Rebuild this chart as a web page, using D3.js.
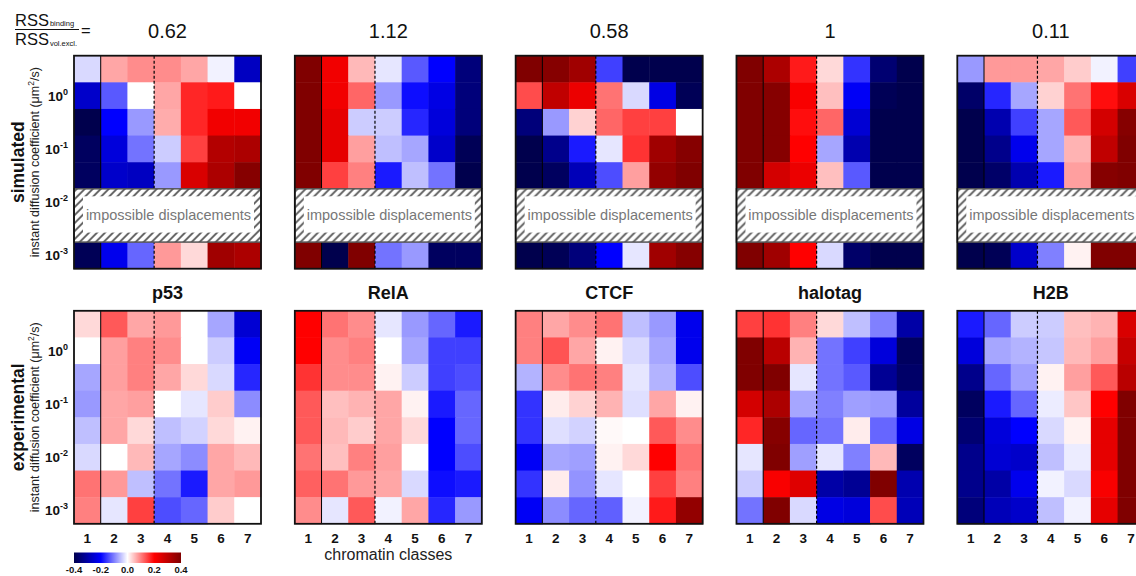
<!DOCTYPE html>
<html>
<head>
<meta charset="utf-8">
<script src="https://cdn.jsdelivr.net/npm/d3@7"></script>
<style>
  html, body { margin: 0; padding: 0; background: #fff; }
  svg { display: block; font-family: "Liberation Sans", Arial, sans-serif; }
</style>
</head>
<body>
<svg id="chart" width="1136" height="576"></svg>
<script>
// ---- data ---------------------------------------------------------------
const proteins = ["p53", "RelA", "CTCF", "halotag", "H2B"];
const rssRatios = ["0.62", "1.12", "0.58", "1", "0.11"];
const classes = [1, 2, 3, 4, 5, 6, 7];
const diffRows = [0, 1, 2, 3, 4, 5, 6, 7];
const yTickRows = [1, 3, 5, 7];
const yTickExps = ["0", "-1", "-2", "-3"];
const colorTicks = [-0.4, -0.2, 0.0, 0.2, 0.4];
const impossibleRows = [5, 6];

// simulated (rows 5 and 6 cannot be reached)
const simP53 = [
  [-0.03, 0.07, 0.09, 0.09, 0.07, -0.01, -0.27],
  [-0.26, -0.13, 0.00, 0.07, 0.17, 0.18, 0.00],
  [-0.40, -0.20, -0.08, 0.065, 0.17, 0.22, 0.22],
  [-0.38, -0.24, -0.11, -0.04, 0.15, 0.32, 0.33],
  [-0.38, -0.26, -0.27, -0.08, 0.26, 0.33, 0.39],
  null, null,
  [-0.39, -0.22, -0.12, 0.08, 0.03, 0.35, 0.33]
];
const simRelA = [
  [0.40, 0.22, 0.055, -0.02, -0.13, -0.20, -0.35],
  [0.40, 0.22, 0.12, -0.08, -0.19, -0.23, -0.35],
  [0.40, 0.24, -0.04, -0.04, -0.17, -0.24, -0.35],
  [0.40, 0.24, 0.075, -0.05, -0.07, -0.26, -0.39],
  [0.40, 0.15, 0.10, -0.18, -0.05, -0.11, -0.40],
  null, null,
  [0.40, -0.40, 0.40, -0.11, -0.08, -0.38, -0.38]
];
const simCTCF = [
  [0.40, 0.39, 0.35, -0.15, -0.40, -0.40, -0.40],
  [0.14, 0.30, 0.23, 0.11, -0.03, -0.23, -0.39],
  [-0.35, -0.08, 0.035, 0.12, 0.15, 0.15, 0.00],
  [-0.40, -0.33, -0.18, -0.02, 0.16, 0.35, 0.39],
  [-0.40, -0.38, -0.28, -0.14, 0.075, 0.37, 0.40],
  null, null,
  [-0.40, -0.39, -0.35, -0.20, -0.02, 0.35, 0.39]
];
const simHalotag = [
  [0.40, 0.33, 0.18, 0.03, -0.16, -0.36, -0.40],
  [0.40, 0.39, 0.21, 0.05, -0.21, -0.39, -0.40],
  [0.40, 0.39, 0.19, 0.12, -0.25, -0.40, -0.40],
  [0.40, 0.39, 0.20, -0.07, -0.29, -0.40, -0.40],
  [0.40, 0.27, 0.23, 0.05, -0.13, -0.40, -0.40],
  null, null,
  [0.40, 0.35, 0.20, -0.03, -0.37, -0.40, -0.40]
];
const simH2B = [
  [-0.08, 0.08, 0.08, 0.07, 0.04, -0.01, -0.15],
  [-0.37, -0.17, -0.07, 0.035, 0.11, 0.19, 0.26],
  [-0.40, -0.29, -0.15, -0.07, 0.13, 0.27, 0.39],
  [-0.40, -0.33, -0.22, -0.07, 0.06, 0.30, 0.40],
  [-0.40, -0.37, -0.29, -0.18, 0.075, 0.39, 0.40],
  null, null,
  [-0.40, -0.39, -0.26, -0.10, 0.01, 0.40, 0.40]
];

// experimental
const expP53 = [
  [0.03, 0.13, 0.07, 0.08, 0.00, -0.07, -0.25],
  [0.00, 0.075, 0.10, 0.09, 0.00, -0.04, -0.21],
  [-0.07, 0.075, 0.10, 0.07, 0.03, -0.03, -0.17],
  [-0.08, 0.07, 0.075, 0.00, -0.02, 0.04, -0.09],
  [-0.05, 0.07, 0.03, -0.05, -0.035, 0.03, 0.01],
  [-0.03, 0.00, 0.055, -0.07, -0.09, 0.07, 0.055],
  [0.11, 0.08, -0.05, -0.11, -0.18, 0.07, 0.08],
  [0.10, -0.02, 0.15, -0.14, -0.12, 0.04, 0.00]
];
const expRelA = [
  [0.20, 0.11, 0.09, -0.02, -0.08, -0.12, -0.18],
  [0.20, 0.09, 0.10, 0.00, -0.07, -0.15, -0.15],
  [0.16, 0.09, 0.09, 0.01, -0.04, -0.15, -0.14],
  [0.13, 0.05, 0.06, 0.07, 0.01, -0.18, -0.12],
  [0.13, 0.055, 0.04, 0.07, 0.03, -0.20, -0.12],
  [0.11, 0.05, 0.10, 0.075, 0.00, -0.20, -0.14],
  [0.125, 0.11, 0.08, 0.07, -0.03, -0.19, -0.18],
  [0.09, -0.02, 0.13, -0.01, 0.07, -0.17, -0.08]
];
const expCTCF = [
  [0.10, 0.07, 0.09, 0.11, -0.05, -0.08, -0.22],
  [0.10, 0.135, 0.07, 0.01, -0.03, -0.07, -0.22],
  [-0.06, 0.09, 0.11, 0.10, -0.02, -0.06, -0.14],
  [-0.16, 0.015, 0.035, 0.06, -0.025, 0.07, 0.01],
  [-0.16, -0.025, -0.035, 0.005, 0.00, 0.13, 0.09],
  [-0.21, -0.07, -0.075, 0.01, 0.03, 0.20, 0.11],
  [-0.16, 0.015, -0.085, -0.02, 0.00, 0.15, 0.10],
  [-0.21, -0.09, -0.12, -0.125, -0.01, 0.18, 0.37]
];
const expHalotag = [
  [0.15, 0.16, 0.10, 0.03, -0.05, -0.10, -0.30],
  [0.40, 0.31, 0.06, -0.11, -0.15, -0.24, -0.38],
  [0.40, 0.40, -0.02, -0.11, -0.13, -0.32, -0.37],
  [0.27, 0.33, -0.07, -0.10, -0.075, -0.08, -0.31],
  [0.17, 0.39, -0.12, -0.11, 0.015, -0.12, -0.23],
  [-0.02, 0.40, -0.075, -0.02, -0.10, 0.055, -0.38],
  [-0.04, 0.21, 0.25, -0.30, -0.32, 0.40, -0.29],
  [-0.11, 0.40, -0.03, -0.23, -0.24, 0.14, -0.28]
];
const expH2B = [
  [-0.18, -0.12, -0.04, -0.04, 0.05, 0.06, 0.26],
  [-0.24, -0.07, -0.06, -0.045, 0.055, 0.075, 0.29],
  [-0.33, -0.12, -0.075, 0.01, 0.075, 0.13, 0.31],
  [-0.38, -0.18, -0.12, -0.015, 0.045, 0.20, 0.40],
  [-0.36, -0.24, -0.20, -0.03, 0.01, 0.24, 0.40],
  [-0.33, -0.25, -0.26, -0.05, -0.015, 0.24, 0.40],
  [-0.33, -0.30, -0.22, -0.01, -0.03, 0.21, 0.40],
  [-0.35, -0.28, -0.26, -0.05, -0.01, 0.24, 0.40]
];

const simulated = [simP53, simRelA, simCTCF, simHalotag, simH2B];
const experimental = [expP53, expRelA, expCTCF, expHalotag, expH2B];

// ---- layout -------------------------------------------------------------
const svg = d3.select("#chart");
const panelW = 187;
const panelH = 213;
const panelX = d3.scaleLinear().domain([0, 4]).range([74, 957.3]);
const rowTops = [55.7, 310.8];

const x = d3.scaleBand().domain(classes).range([0, panelW]);
const y = d3.scaleBand().domain(diffRows).range([0, panelH]);

// seismic colormap, clipped to ±0.4
const color = d3.scaleLinear()
  .domain([-0.4, -0.2, 0, 0.2, 0.4])
  .range(["#00004d", "#0000ff", "#ffffff", "#ff0000", "#800000"])
  .interpolate(d3.interpolateRgb)
  .clamp(true);

// hatch pattern for unreachable diffusion values
const defs = svg.append("defs");
const pat = defs.append("pattern")
  .attr("id", "hatch").attr("patternUnits", "userSpaceOnUse")
  .attr("width", 8).attr("height", 8);
pat.append("rect").attr("width", 8).attr("height", 8).attr("fill", "#fff");
pat.append("path")
  .attr("d", "M-2,2 L2,-2 M0,8 L8,0 M6,10 L10,6")
  .attr("stroke", "#555").attr("stroke-width", 1.8);

function drawPanel(g, matrix, simulatedRow) {
  const cells = [];
  matrix.forEach((row, r) => {
    if (!row) return;
    row.forEach((v, c) => cells.push({ r, c: classes[c], v }));
  });
  g.selectAll("rect.cell").data(cells).join("rect")
    .attr("class", "cell")
    .attr("x", d => x(d.c)).attr("y", d => y(d.r))
    .attr("width", x.bandwidth() + 0.5).attr("height", y.bandwidth() + 0.5)
    .attr("fill", d => color(d.v));

  // separators: solid after class 1, dashed after class 3
  g.append("line")
    .attr("x1", x(2)).attr("x2", x(2)).attr("y1", 0).attr("y2", panelH)
    .attr("stroke", "#000").attr("stroke-width", 1);
  g.append("line")
    .attr("x1", x(4)).attr("x2", x(4)).attr("y1", 0).attr("y2", panelH)
    .attr("stroke", "#000").attr("stroke-width", 1.2)
    .attr("stroke-dasharray", "3,2");

  if (simulatedRow) {
    const y0 = y(impossibleRows[0]);
    const h = y(impossibleRows[1]) + y.bandwidth() - y0;
    g.append("rect")
      .attr("x", 0).attr("y", y0).attr("width", panelW).attr("height", h)
      .attr("fill", "url(#hatch)").attr("stroke", "#555").attr("stroke-width", 1.5);
    g.append("rect")
      .attr("x", 9).attr("y", y0 + 7.5).attr("width", panelW - 16).attr("height", h - 17)
      .attr("fill", "#fff");
    g.append("text")
      .attr("x", panelW / 2 + 1).attr("y", y0 + h / 2 + 5)
      .attr("text-anchor", "middle").attr("font-size", 14.5)
      .attr("fill", "#777").text("impossible displacements");
  }

  g.append("rect")
    .attr("x", 0).attr("y", 0).attr("width", panelW).attr("height", panelH)
    .attr("fill", "none").attr("stroke", "#111").attr("stroke-width", 1.8);
}

[simulated, experimental].forEach((group, gi) => {
  group.forEach((matrix, i) => {
    const g = svg.append("g")
      .attr("transform", `translate(${panelX(i)},${rowTops[gi]})`);
    drawPanel(g, matrix, gi === 0);
  });
});

// panel titles
svg.selectAll("text.ratio").data(rssRatios).join("text")
  .attr("class", "ratio")
  .attr("x", (d, i) => panelX(i) + panelW / 2)
  .attr("y", 38).attr("text-anchor", "middle")
  .attr("font-size", 20).attr("fill", "#111").text(d => d);

svg.selectAll("text.protein").data(proteins).join("text")
  .attr("class", "protein")
  .attr("x", (d, i) => panelX(i) + panelW / 2)
  .attr("y", 299).attr("text-anchor", "middle")
  .attr("font-size", 18).attr("font-weight", "bold").attr("fill", "#111")
  .text(d => d);

// RSS ratio label
const frac = svg.append("g").attr("fill", "#111");
const num = frac.append("text").attr("x", 15).attr("y", 26).attr("font-size", 16.5);
num.append("tspan").text("RSS");
num.append("tspan").attr("font-size", 7.5).attr("dx", 1).attr("dy", 0).text("binding");
frac.append("line").attr("x1", 15).attr("x2", 79).attr("y1", 29.5).attr("y2", 29.5)
  .attr("stroke", "#111").attr("stroke-width", 1);
const den = frac.append("text").attr("x", 15).attr("y", 44.5).attr("font-size", 16.5);
den.append("tspan").text("RSS");
den.append("tspan").attr("font-size", 7.5).attr("dx", 1).attr("dy", 1).text("vol.excl.");
frac.append("text").attr("x", 81).attr("y", 36).attr("font-size", 16.5).text("=");

// y axes (only on the first column)
rowTops.forEach((top, gi) => {
  const g = svg.append("g").attr("transform", `translate(${panelX(0)},${top})`);
  yTickRows.forEach((r, k) => {
    const t = g.append("text")
      .attr("x", -6).attr("y", y(r) + y.bandwidth() / 2 + 5)
      .attr("text-anchor", "end").attr("font-size", 13.5)
      .attr("font-weight", "bold").attr("fill", "#111");
    t.append("tspan").text("10");
    t.append("tspan").attr("font-size", 9).attr("dy", -6).text(yTickExps[k]);
  });
  const cy = top + panelH / 2;
  svg.append("text")
    .attr("transform", `translate(39,${cy}) rotate(-90)`)
    .attr("text-anchor", "middle").attr("font-size", 12.5).attr("fill", "#222")
    .call(t => {
      t.append("tspan").text("instant diffusion coefficient (μm");
      t.append("tspan").attr("font-size", 8.5).attr("dy", -5).text("2");
      t.append("tspan").attr("dy", 5).text("/s)");
    });
  svg.append("text")
    .attr("transform", `translate(24,${cy}) rotate(-90)`)
    .attr("text-anchor", "middle").attr("font-size", 17.5)
    .attr("font-weight", "bold").attr("fill", "#111")
    .text(gi === 0 ? "simulated" : "experimental");
});

// x axes under the bottom row
proteins.forEach((p, i) => {
  const ax = d3.axisBottom(x).tickSize(0).tickPadding(10);
  const g = svg.append("g")
    .attr("transform", `translate(${panelX(i)},${rowTops[1] + panelH})`)
    .call(ax);
  g.select(".domain").remove();
  g.selectAll("text").attr("font-size", 13.5).attr("font-weight", "bold")
    .attr("fill", "#111").attr("font-family", "Liberation Sans, Arial, sans-serif");
});
svg.append("text")
  .attr("x", panelX(1) + panelW / 2).attr("y", 560)
  .attr("text-anchor", "middle").attr("font-size", 16).attr("fill", "#222")
  .text("chromatin classes");

// colour bar
const cbX = d3.scaleLinear().domain([-0.4, 0.4]).range([74, 181]);
const grad = defs.append("linearGradient").attr("id", "cbar");
d3.range(0, 1.0001, 0.05).forEach(t => {
  grad.append("stop").attr("offset", t)
    .attr("stop-color", color(cbX.invert(74 + t * 107)));
});
svg.append("rect").attr("x", 74).attr("y", 552.5).attr("width", 107).attr("height", 10.5)
  .attr("fill", "url(#cbar)");
svg.selectAll("text.cbtick").data(colorTicks).join("text")
  .attr("class", "cbtick")
  .attr("x", d => cbX(d)).attr("y", 573)
  .attr("text-anchor", "middle").attr("font-size", 9.5).attr("font-weight", "bold")
  .attr("fill", "#111").text(d => d.toFixed(1));
</script>
</body>
</html>
